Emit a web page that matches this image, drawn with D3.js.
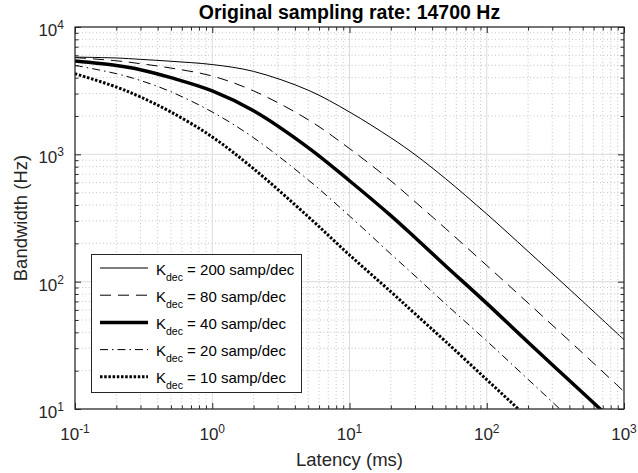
<!DOCTYPE html>
<meta charset="utf-8">
<style>

    body {
        margin: 0;
        background: #fff;
    }

    svg {
        font-family: "Liberation Sans", Arial, Helvetica, sans-serif;
    }

    .axis path {
        display: none;
    }

    .axis line {
        stroke: #262626;
        stroke-width: 1;
    }

</style>
<svg width="638" height="473"></svg>
<script src="https://d3js.org/d3.v7.min.js"></script>
<script>
    // latency in ms, bandwidth in Hz
    var latency = [0.1, 0.2, 0.3, 0.5, 1, 2, 5, 10, 20, 30, 50, 100, 200, 500, 1000];

    var bwK200 = [5800, 5710, 5570, 5380, 5070, 4480, 3190, 2150, 1350, 995, 645, 340, 173, 70, 35];
    var bwK80 = [5750, 5430, 5150, 4760, 4120, 3150, 1870, 1110, 620, 425, 262, 134, 68, 27.5, 13.7];
    var bwK40 = [5400, 4980, 4620, 4000, 3150, 2200, 1130, 620, 330, 222, 133.5, 67.5, 33.4, 13.4, 6.7];
    var bwK20 = [5000, 4300, 3800, 3100, 2150, 1350, 630, 328, 165, 111, 67, 34.2, 17.1, 6.8, 3.4];
    var bwK10 = [4300, 3380, 2820, 2150, 1370, 771, 324, 162, 83.4, 56, 34, 17, 8.5, 3.4, 1.7];

    var kdec = [200, 80, 40, 20, 10];
    var series = [bwK200, bwK80, bwK40, bwK20, bwK10];

    var xMajor = [0.1, 1, 10, 100, 1000];
    var xExp = ["-1", "0", "1", "2", "3"];
    var yMajor = [10, 100, 1000, 10000];
    var yExp = ["1", "2", "3", "4"];

    var title = "Original sampling rate: 14700 Hz";

    // line look for each K_dec, same order as kdec
    var lineStyle = [
        {width: 1, dash: null},
        {width: 1, dash: "11,7"},
        {width: 3.5, dash: null},
        {width: 1, dash: "8,4,1.5,4"},
        {width: 3, dash: "2.5,1.7"}
    ];

    var svg = d3.select("svg"),
        margin = {top: 27, right: 14, bottom: 64, left: 75},
        width = +svg.attr("width") - margin.left - margin.right,
        height = +svg.attr("height") - margin.top - margin.bottom;

    var x = d3.scaleLog().domain([0.1, 1000]).range([margin.left, margin.left + width]);
    var y = d3.scaleLog().domain([10, 10000]).range([margin.top + height, margin.top]);

    var xMinor = x.ticks().filter(function (v) { return xMajor.indexOf(v) < 0; });
    var yMinor = y.ticks().filter(function (v) { return yMajor.indexOf(v) < 0; });

    svg.append("defs").append("clipPath")
        .attr("id", "plot-clip")
        .append("rect")
        .attr("x", margin.left)
        .attr("y", margin.top)
        .attr("width", width)
        .attr("height", height);

    // grid: dotted minor first, light solid major on top
    var grid = svg.append("g");

    grid.selectAll(".xminor").data(xMinor).enter().append("line")
        .attr("x1", x).attr("x2", x)
        .attr("y1", margin.top).attr("y2", margin.top + height)
        .style("stroke", "#c4c4c4").style("stroke-dasharray", "1,2.5");

    grid.selectAll(".yminor").data(yMinor).enter().append("line")
        .attr("y1", y).attr("y2", y)
        .attr("x1", margin.left).attr("x2", margin.left + width)
        .style("stroke", "#c4c4c4").style("stroke-dasharray", "1,2.5");

    grid.selectAll(".xmajor").data(xMajor).enter().append("line")
        .attr("x1", x).attr("x2", x)
        .attr("y1", margin.top).attr("y2", margin.top + height)
        .style("stroke", "#dcdcdc");

    grid.selectAll(".ymajor").data(yMajor).enter().append("line")
        .attr("y1", y).attr("y2", y)
        .attr("x1", margin.left).attr("x2", margin.left + width)
        .style("stroke", "#dcdcdc");

    // curves
    var line = d3.line()
        .x(function (d) { return x(d[0]); })
        .y(function (d) { return y(d[1]); })
        .curve(d3.curveCatmullRom.alpha(0.5));

    svg.append("g")
        .attr("clip-path", "url(#plot-clip)")
        .selectAll("path")
        .data(series)
        .enter().append("path")
        .attr("d", function (s) {
            return line(s.map(function (v, i) { return [latency[i], v]; }));
        })
        .style("fill", "none")
        .style("stroke", "#000")
        .style("stroke-width", function (s, i) { return lineStyle[i].width; })
        .style("stroke-dasharray", function (s, i) { return lineStyle[i].dash; });

    // inward ticks on all four sides
    function addAxis(axis, tx, ty) {
        svg.append("g")
            .attr("class", "axis")
            .attr("transform", "translate(" + tx + "," + ty + ")")
            .call(axis.tickSizeOuter(0).tickFormat(""));
    }

    addAxis(d3.axisBottom(x).tickValues(xMajor).tickSizeInner(-6), 0, margin.top + height);
    addAxis(d3.axisBottom(x).tickValues(xMinor).tickSizeInner(-3.5), 0, margin.top + height);
    addAxis(d3.axisTop(x).tickValues(xMajor).tickSizeInner(-6), 0, margin.top);
    addAxis(d3.axisTop(x).tickValues(xMinor).tickSizeInner(-3.5), 0, margin.top);
    addAxis(d3.axisLeft(y).tickValues(yMajor).tickSizeInner(-6), margin.left, 0);
    addAxis(d3.axisLeft(y).tickValues(yMinor).tickSizeInner(-3.5), margin.left, 0);
    addAxis(d3.axisRight(y).tickValues(yMajor).tickSizeInner(-6), margin.left + width, 0);
    addAxis(d3.axisRight(y).tickValues(yMinor).tickSizeInner(-3.5), margin.left + width, 0);

    svg.append("rect")
        .attr("x", margin.left)
        .attr("y", margin.top)
        .attr("width", width)
        .attr("height", height)
        .style("fill", "none")
        .style("stroke", "#262626")
        .style("stroke-width", 1.2);

    // tick labels with superscript exponents
    var xLab = svg.append("g").selectAll("text")
        .data(xMajor)
        .enter().append("text")
        .attr("x", x)
        .attr("y", margin.top + height + 31)
        .attr("text-anchor", "middle")
        .style("font-size", "17px")
        .style("fill", "#262626");
    xLab.append("tspan").text("10");
    xLab.append("tspan")
        .attr("dy", -7)
        .style("font-size", "12px")
        .text(function (d, i) { return xExp[i]; });

    var yLab = svg.append("g").selectAll("text")
        .data(yMajor)
        .enter().append("text")
        .attr("x", margin.left - 11)
        .attr("y", function (d) { return y(d) + 9; })
        .attr("text-anchor", "end")
        .style("font-size", "17px")
        .style("fill", "#262626");
    yLab.append("tspan").text("10");
    yLab.append("tspan")
        .attr("dy", -7)
        .style("font-size", "12px")
        .text(function (d, i) { return yExp[i]; });

    // axis labels and title
    svg.append("text")
        .attr("x", margin.left + width / 2)
        .attr("y", 466)
        .attr("text-anchor", "middle")
        .style("font-size", "18.5px")
        .style("fill", "#262626")
        .text("Latency (ms)");

    svg.append("text")
        .attr("transform", "translate(27," + (margin.top + height / 2) + ") rotate(-90)")
        .attr("text-anchor", "middle")
        .style("font-size", "18.5px")
        .style("fill", "#262626")
        .text("Bandwidth (Hz)");

    svg.append("text")
        .attr("x", margin.left + width / 2)
        .attr("y", 19)
        .attr("text-anchor", "middle")
        .style("font-size", "19.5px")
        .style("font-weight", "bold")
        .style("fill", "#000")
        .text(title);

    // legend
    var legend = svg.append("g");

    legend.append("rect")
        .attr("x", 91.5)
        .attr("y", 254.5)
        .attr("width", 210)
        .attr("height", 138)
        .style("fill", "#fff")
        .style("stroke", "#262626")
        .style("stroke-width", 1);

    var row = legend.selectAll(".row")
        .data(kdec)
        .enter().append("g")
        .attr("transform", function (d, i) { return "translate(0," + (268 + i * 27.2) + ")"; });

    row.append("line")
        .attr("x1", 100)
        .attr("x2", 148)
        .style("stroke", "#000")
        .style("stroke-width", function (d, i) { return lineStyle[i].width; })
        .style("stroke-dasharray", function (d, i) { return lineStyle[i].dash; });

    var rowText = row.append("text")
        .attr("x", 156)
        .attr("y", 6.5)
        .style("font-size", "15px")
        .style("fill", "#000");
    rowText.append("tspan").text("K");
    rowText.append("tspan")
        .attr("dy", 6)
        .style("font-size", "10.5px")
        .text("dec");
    rowText.append("tspan")
        .attr("dy", -6)
        .text(function (d) { return " = " + d + " samp/dec"; });
</script>
